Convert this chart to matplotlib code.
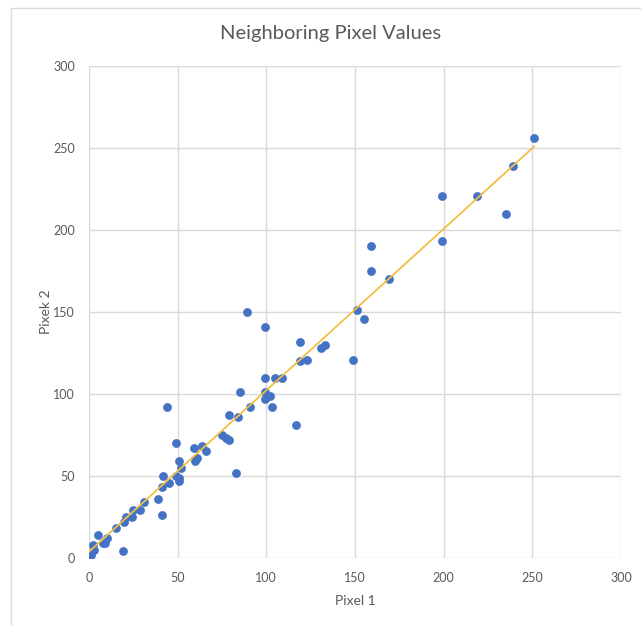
import numpy as np
import matplotlib.pyplot as plt
from matplotlib.patches import Rectangle

# Pixel pairs
pixel1 = [251, 239, 235, 219, 199, 199, 169, 159, 159, 151, 155, 149,
          133, 131, 123, 119, 119, 117, 109, 105, 99, 99, 89,
          103, 102, 99, 99, 91, 85, 84, 83, 79, 79, 77, 75,
          66, 64, 59, 61, 60, 51, 52, 51, 51, 49, 49, 44,
          45, 42, 41, 41, 39, 31, 29, 25, 24, 21, 20, 19,
          15, 10, 8, 9, 5, 2, 3, 1, 0]
pixel2 = [256, 239, 210, 221, 221, 193, 170, 190, 175, 151, 146, 121,
          130, 128, 121, 120, 132, 81, 110, 110, 110, 141, 150,
          92, 99, 97, 101, 92, 101, 86, 52, 87, 72, 73, 75,
          65, 68, 67, 61, 59, 59, 55, 47, 49, 50, 70, 92,
          46, 50, 43, 26, 36, 34, 29, 29, 25, 25, 22, 4,
          18, 12, 9, 9, 14, 8, 5, 2, 0]

x = np.array(pixel1)
y = np.array(pixel2)

fig = plt.figure(figsize=(6.41, 6.25), dpi=100)
ax = fig.add_axes([89/641, 1 - 558/625, 532/641, 492/625])

grey = '#595959'
ax.scatter(x, y, s=40, color='#4472C4', zorder=3, linewidths=0)

# linear trendline
m, b = np.polyfit(x, y, 1)
xs = np.array([x.min(), x.max()])
ax.plot(xs, m * xs + b, color='#F2BE45', lw=1.3, zorder=4)

ax.set_xlim(0, 300)
ax.set_ylim(0, 300)
ax.set_xticks(range(0, 301, 50))
ax.set_yticks(range(0, 301, 50))
ax.grid(True, color='#D9D9D9', lw=1)
ax.set_axisbelow(True)
for s in ax.spines.values():
    s.set_visible(False)
ax.tick_params(length=0, labelsize=9, labelcolor=grey, pad=10)
for lab in ax.get_xticklabels() + ax.get_yticklabels():
    lab.set_family('Lato')

ax.set_xlabel('Pixel 1', fontsize=10, color=grey, family='Lato', labelpad=8)
ax.set_ylabel('Pixek 2', fontsize=10, color=grey, family='Lato', labelpad=1)
fig.text(331/641, 1 - 33/625, 'Neighboring Pixel Values', ha='center', va='center',
         fontsize=14.5, color=grey, family='Lato')

# chart area border
fig.patches.append(Rectangle((11/641, -0.1), 1.2, 1 - 8/625 + 0.1,
                             transform=fig.transFigure, fill=False,
                             edgecolor='#D9D9D9', lw=1))

fig.savefig('out.png', dpi=100)
